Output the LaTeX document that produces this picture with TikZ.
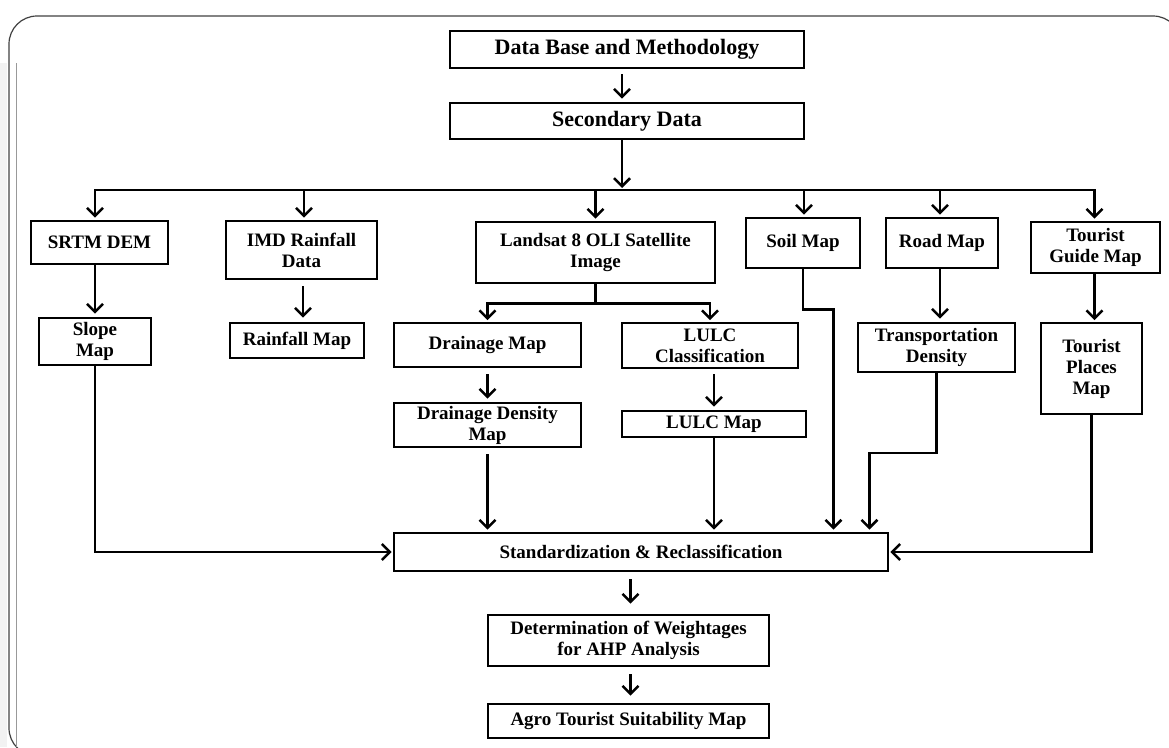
\documentclass[tikz,border=0pt]{standalone}
\usepackage{fontspec}
\setmainfont{Liberation Serif}
\usetikzlibrary{arrows.meta,calc}
\begin{document}
\begin{tikzpicture}[x=1pt,y=-1pt,
  box/.style={draw, line width=2.8pt, inner sep=0pt, align=center, font=\bfseries\fontsize{19}{21}\selectfont},
  bigbox/.style={box, font=\bfseries\fontsize{22}{24}\selectfont},
  conn/.style={line width=2.5pt},
  arr/.style={conn, -{Straight Barb[length=8pt,width=16pt]}},
  frameline/.style={line width=1.2pt, black!75},
]
\useasboundingbox (0,0) rectangle (1169,747);
\clip (0,0) rectangle (1169,747);
% frame
\fill[black!5] (0,63) rectangle (7,747);
\draw[frameline, rounded corners=28pt] (9,16) rectangle (1181,756);
\draw[black!40, line width=1pt] (16,63) -- (16,747);

% nodes
\node[bigbox, minimum width=354pt, minimum height=37pt] (db) at (627,49.5) {Data Base and Methodology};
\node[bigbox, minimum width=354pt, minimum height=36pt] (sd) at (627,121) {Secondary Data};
\node[box, minimum width=137pt, minimum height=43pt] (srtm) at (99.5,242.5) {SRTM DEM};
\node[box, minimum width=151pt, minimum height=58pt] (imd) at (301.5,250) {IMD Rainfall\\Data};
\node[box, minimum width=239pt, minimum height=61pt] (land) at (595.5,252.5) {Landsat 8 OLI Satellite\\Image};
\node[box, minimum width=114pt, minimum height=50pt] (soil) at (803,243) {Soil Map};
\node[box, minimum width=112pt, minimum height=50pt] (road) at (942,243) {Road Map};
\node[box, minimum width=129pt, minimum height=51pt] (tgm) at (1095.5,247.5) {Tourist\\Guide Map};
\node[box, minimum width=112pt, minimum height=47pt] (slope) at (95,341.5) {Slope\\Map};
\node[box, minimum width=134pt, minimum height=35pt] (rain) at (297,340.5) {Rainfall Map};
\node[box, minimum width=187pt, minimum height=44pt] (drain) at (487.5,345) {Drainage Map};
\node[box, minimum width=176pt, minimum height=45pt] (lulcc) at (710,345.5) {LULC\\Classification};
\node[box, minimum width=187pt, minimum height=44pt] (dd) at (487.5,425) {Drainage Density\\Map};
\node[box, minimum width=184pt, minimum height=26pt] (lulcm) at (714,424) {LULC Map};
\node[box, minimum width=157pt, minimum height=49pt] (trans) at (936.5,347.5) {Transportation\\Density};
\node[box, minimum width=101pt, minimum height=91pt] (tpm) at (1091.5,368.5) {Tourist\\Places\\Map};
\node[box, minimum width=494pt, minimum height=38pt] (std) at (641,552) {Standardization \& Reclassification};
\node[box, minimum width=281pt, minimum height=51pt] (det) at (628.5,640.5) {Determination of Weightages\\for AHP Analysis};
\node[box, minimum width=281pt, minimum height=34pt] (agro) at (628.5,721) {Agro Tourist Suitability Map};

% helper coordinates
\coordinate (bus) at (622,190);
\coordinate (dSRTM) at ([xshift=-4.5pt]srtm.north);
\coordinate (dIMD) at ([xshift=2.5pt]imd.north);
\coordinate (dLand) at (land.north);
\coordinate (dSoil) at ([xshift=1pt]soil.north);
\coordinate (dRoad) at ([xshift=-2pt]road.north);
\coordinate (dTGM) at ([xshift=-1pt]tgm.north);
\coordinate (r1) at ([xshift=6pt]rain.north);
\coordinate (r2) at ([xshift=-2pt]road.south);
\coordinate (t1) at ([xshift=-1pt]tgm.south);
\coordinate (s1) at ([xshift=2pt]det.north);
\coordinate (split) at ($(land.south)+(0,19)$);

% top
\draw[arr, shorten <=5pt, shorten >=3pt] ([xshift=-5pt]db.south) -- ([xshift=-5pt]sd.north);
\draw[arr, shorten >=2pt] ([xshift=-5pt]sd.south) -- (bus);
\draw[conn, line cap=rect] (dSRTM |- bus) -- (dTGM |- bus);
\draw[arr, shorten >=2pt] (dSRTM |- bus) -- (dSRTM);
\draw[arr, shorten >=2pt] (dIMD |- bus) -- (dIMD);
\draw[arr, shorten >=2pt] (dLand |- bus) -- (dLand);
\draw[arr, shorten >=2pt] (dSoil |- bus) -- (dSoil);
\draw[arr, shorten >=2pt] (dRoad |- bus) -- (dRoad);
\draw[arr, shorten >=2pt] (dTGM |- bus) -- (dTGM);

% second level
\draw[arr, shorten >=3pt] (slope.north |- srtm.south) -- (slope.north);
\draw[arr, shorten <=6pt, shorten >=4pt] (r1 |- imd.south) -- (r1);
\draw[conn] (land.south) -- (split);
\draw[arr, shorten >=1.5pt] (split) -| (drain.north);
\draw[arr, shorten >=1.5pt] (split) -| (lulcc.north);
\draw[arr, shorten <=6pt, shorten >=3pt] (drain.south) -- (dd.north);
\draw[arr, shorten <=5pt, shorten >=3pt] (lulcm.north |- lulcc.south) -- (lulcm.north);
\draw[arr, shorten >=3pt] (r2) -- (r2 |- trans.north);
\draw[arr, shorten >=1.5pt] (t1) -- (t1 |- tpm.north);

% into standardization
\draw[arr, shorten >=1pt] (slope.south) |- (std.west);
\draw[arr, shorten <=6pt, shorten >=2pt] (dd.south) -- (dd.south |- std.north);
\draw[arr, shorten >=2pt] (lulcm.south) -- (lulcm.south |- std.north);
\draw[arr, shorten >=2pt] (soil.south) -- ++(0,40) -| ([xshift=-56pt]std.north east);
\draw[arr, shorten >=2pt] (trans.south) -- ++(0,79.5) -| ([xshift=-20pt]std.north east);
\draw[arr, shorten >=1pt] (tpm.south) |- (std.east);

% bottom
\draw[arr, shorten <=7pt, shorten >=10pt] (s1 |- std.south) -- (s1);
\draw[arr, shorten <=7pt, shorten >=7pt] (s1 |- det.south) -- (s1 |- agro.north);
\end{tikzpicture}
\end{document}
